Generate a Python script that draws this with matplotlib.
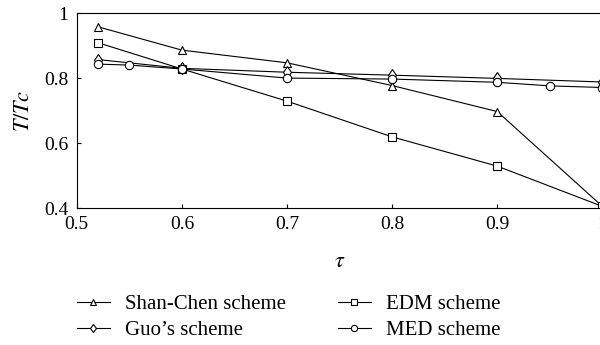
#!/usr/bin/env python3
import matplotlib
matplotlib.use("Agg")
import matplotlib.pyplot as plt

tau_sc = [0.52, 0.6, 0.7, 0.8, 0.9, 1.0]
shan_chen = [0.958, 0.886, 0.847, 0.777, 0.697, 0.405]

tau_edm = [0.52, 0.6, 0.7, 0.8, 0.9, 1.0]
edm = [0.909, 0.828, 0.729, 0.619, 0.529, 0.405]

tau_guo = [0.52, 0.6, 0.7, 0.8, 0.9, 1.0]
guo = [0.857, 0.830, 0.818, 0.809, 0.799, 0.788]

tau_med = [0.52, 0.55, 0.6, 0.7, 0.8, 0.9, 0.95, 1.0]
med = [0.843, 0.840, 0.828, 0.800, 0.797, 0.787, 0.776, 0.771]

plt.rcParams['font.family'] = ['Liberation Serif', 'DejaVu Serif']
plt.rcParams['mathtext.fontset'] = 'stix'

fig = plt.figure(figsize=(6.0, 3.45), dpi=100)
ax = fig.add_axes([0.128, 0.397, 0.876, 0.565])

style = dict(color='black', lw=0.8, ms=6, mfc='white', mec='black', mew=0.8)
l1, = ax.plot(tau_sc, shan_chen, marker='^', label='Shan-Chen scheme', **style)
l2, = ax.plot(tau_edm, edm, marker='s', label='EDM scheme', **style)
l3, = ax.plot(tau_guo, guo, marker='d', label="Guo's scheme", **style)
l4, = ax.plot(tau_med, med, marker='o', label='MED scheme', **style)

ax.set_xlim(0.5, 1.0)
ax.set_ylim(0.4, 1.0)
ax.set_xticks([0.5, 0.6, 0.7, 0.8, 0.9, 1.0])
ax.set_xticklabels(['0.5', '0.6', '0.7', '0.8', '0.9', '1'])
ax.set_yticks([0.4, 0.6, 0.8, 1.0])
ax.set_yticklabels(['0.4', '0.6', '0.8', '1'])
ax.tick_params(direction='in', length=3, labelsize=14, width=0.8, pad=6)
for s in ax.spines.values():
    s.set_linewidth(0.8)

ax.set_xlabel(r'$\tau$', fontsize=16, labelpad=14)
ax.set_ylabel(r'$T/Tc$', fontsize=16, labelpad=7)

fig.legend([l1, l3, l2, l4],
           ['Shan-Chen scheme', "Guo’s scheme", 'EDM scheme', 'MED scheme'],
           ncol=2, frameon=False, fontsize=15, loc='center left',
           bbox_to_anchor=(0.128, 0.08), borderpad=0, borderaxespad=0,
           handlelength=1.6, handletextpad=0.7, markerscale=0.75,
           columnspacing=2.5, labelspacing=0.32)

fig.savefig('out.png', dpi=100)
